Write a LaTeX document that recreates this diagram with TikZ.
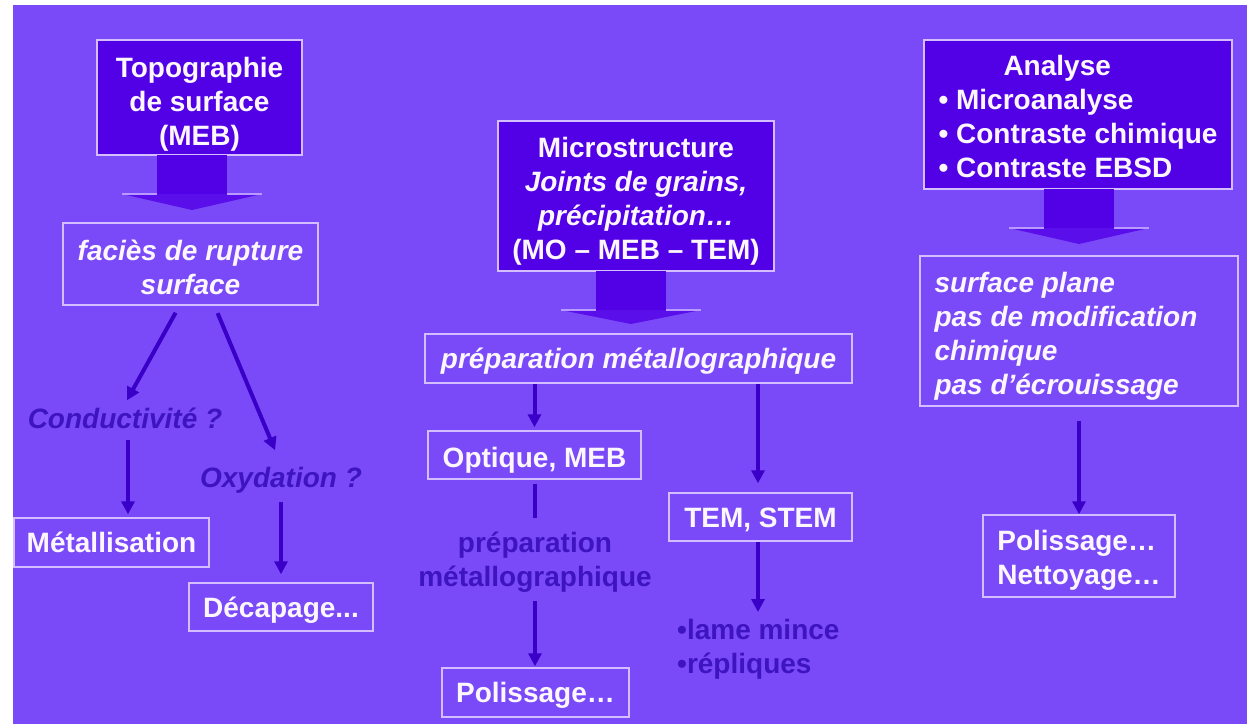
\documentclass[tikz,border=0pt]{standalone}
\usepackage{fontspec}
\setmainfont{Liberation Sans}
\usetikzlibrary{arrows.meta}

\definecolor{slidebg}{RGB}{122,74,249}
\definecolor{boxdark}{RGB}{82,0,230}
\definecolor{boxline}{RGB}{212,190,255}
\definecolor{arrowblue}{RGB}{58,0,200}
\definecolor{textdark}{RGB}{62,20,190}
\definecolor{textlight}{RGB}{252,246,255}
\definecolor{headlight}{RGB}{185,155,255}

\newcommand{\padtop}[1]{\rule{0pt}{#1pt}}

\tikzset{
  txt/.style={font=\fontsize{28}{34}\selectfont\bfseries, text=textlight, align=center, inner sep=0pt},
  darkbox/.style={txt, draw=boxline, line width=1.5pt, fill=boxdark},
  openbox/.style={txt, draw=boxline, line width=1.5pt},
  darktxt/.style={txt, text=textdark},
  flow/.style={draw=arrowblue, line width=4pt, -{Triangle[length=13pt,width=13pt]}},
  plainline/.style={draw=arrowblue, line width=4pt},
}

% big block arrow: centre x, top, base of head, tip
\newcommand{\bigarrow}[4]{%
  \fill[boxdark] (#1-35,#2) rectangle (#1+35,#3+1);
  \fill[boxdark!80!slidebg] (#1-70,#3) -- (#1+70,#3) -- (#1,#4) -- cycle;
  \draw[headlight, line width=1.5pt] (#1-70,#3) -- (#1-35,#3) (#1+35,#3) -- (#1+70,#3);
}

\begin{document}
\begin{tikzpicture}[x=1pt,y=-1pt]
  \useasboundingbox (0,0) rectangle (1247,724);
  \fill[white] (0,0) rectangle (1247,724);
  \fill[slidebg] (13,5) rectangle (1247,724);

  % ---------- left column ----------
  \node[darkbox, minimum width=205pt, minimum height=115pt] (topo) at (199.5,97.5)
    {\padtop{34}Topographie\\de surface\\(MEB)};
  \bigarrow{192}{155}{194}{210}
  \node[openbox, minimum width=255pt, minimum height=82pt] (facies) at (190.5,264)
    {\padtop{27}\itshape faciès de rupture\\\itshape surface};
  \node[darktxt, font=\fontsize{28}{34}\selectfont\bfseries\itshape] (cond) at (125,418) {Conductivité ?};
  \node[darktxt, font=\fontsize{28}{34}\selectfont\bfseries\itshape] (oxy) at (281,480) {Oxydation ?};
  \node[openbox, minimum width=195pt, minimum height=49pt] (metal) at (111.5,542.5) {Métallisation};
  \node[openbox, minimum width=184pt, minimum height=48pt] (decap) at (281,607) {\padtop{26}Décapage...};

  \draw[flow, shorten <=8pt, shorten >=8pt] ([xshift=-11pt]facies.south) -- ([xshift=-2pt]cond.north);
  \draw[flow, shorten <=8pt, shorten >=18pt] ([xshift=24pt]facies.south) -- ([xshift=1pt]oxy.north);
  \draw[flow, shorten <=11pt, shorten >=3pt] ([xshift=3pt]cond.south) -- ([xshift=3pt]cond.south |- metal.north);
  \draw[flow, shorten <=9pt, shorten >=8pt] (oxy.south) -- (oxy.south |- decap.north);

  % ---------- middle column ----------
  \node[darkbox, minimum width=276pt, minimum height=150pt] (micro) at (636,196)
    {\padtop{30}Microstructure\\\itshape Joints de grains,\\\itshape précipitation…\\(MO – MEB – TEM)};
  \bigarrow{631}{271}{310}{324}
  \node[openbox, minimum width=427pt, minimum height=49pt] (prep) at (638.5,358.5)
    {\padtop{26}\itshape préparation métallographique};
  \node[openbox, minimum width=213pt, minimum height=48pt] (optique) at (534.5,455) {\padtop{30}Optique, MEB};
  \node[darktxt] (prepb) at (535,562) {préparation\\métallographique};
  \node[openbox, minimum width=187pt, minimum height=49pt] (polisa) at (535.5,692.5) {\padtop{26}Polissage…};
  \node[openbox, minimum width=183pt, minimum height=48pt] (tem) at (760.5,517) {\padtop{26}TEM, STEM};
  \node[darktxt, align=left, anchor=north west] (lame) at (677,619) {•lame mince\\•répliques};

  \draw[flow, shorten >=3pt] (prep.south -| optique.north) -- (optique.north);
  \draw[plainline, shorten <=4pt, shorten >=14pt] (optique.south) -- (optique.south |- prepb.north);
  \draw[flow, shorten <=9pt, shorten >=1pt] (prepb.south) -- (prepb.south |- polisa.north);
  \draw[flow, shorten >=9pt] ([xshift=-2.5pt]prep.south -| tem.north) -- ([xshift=-2.5pt]tem.north);
  \draw[flow, shorten >=7pt] ([xshift=-2.5pt]tem.south) -- ([xshift=-2.5pt]tem.south |- lame.north);

  % ---------- right column ----------
  \node[darkbox, align=left, minimum width=308pt, minimum height=149pt] (analyse) at (1078,114.5)
    {\padtop{25}\hspace*{65pt}Analyse\\• Microanalyse\\• Contraste chimique\\• Contraste EBSD};
  \bigarrow{1079}{189}{228}{244}
  \node[openbox, align=left, minimum width=318pt, minimum height=150pt] (surf) at (1079,331)
    {\padtop{30}\itshape surface plane\\\makebox[289pt][l]{\itshape pas de modification}\\\itshape chimique\\\itshape pas d’écrouissage};
  \node[openbox, align=left, minimum width=192pt, minimum height=82pt] (polisb) at (1079,556)
    {\padtop{28}Polissage…\\Nettoyage…};

  \draw[flow, shorten <=14pt] (surf.south) -- (polisb.north);
\end{tikzpicture}
\end{document}
